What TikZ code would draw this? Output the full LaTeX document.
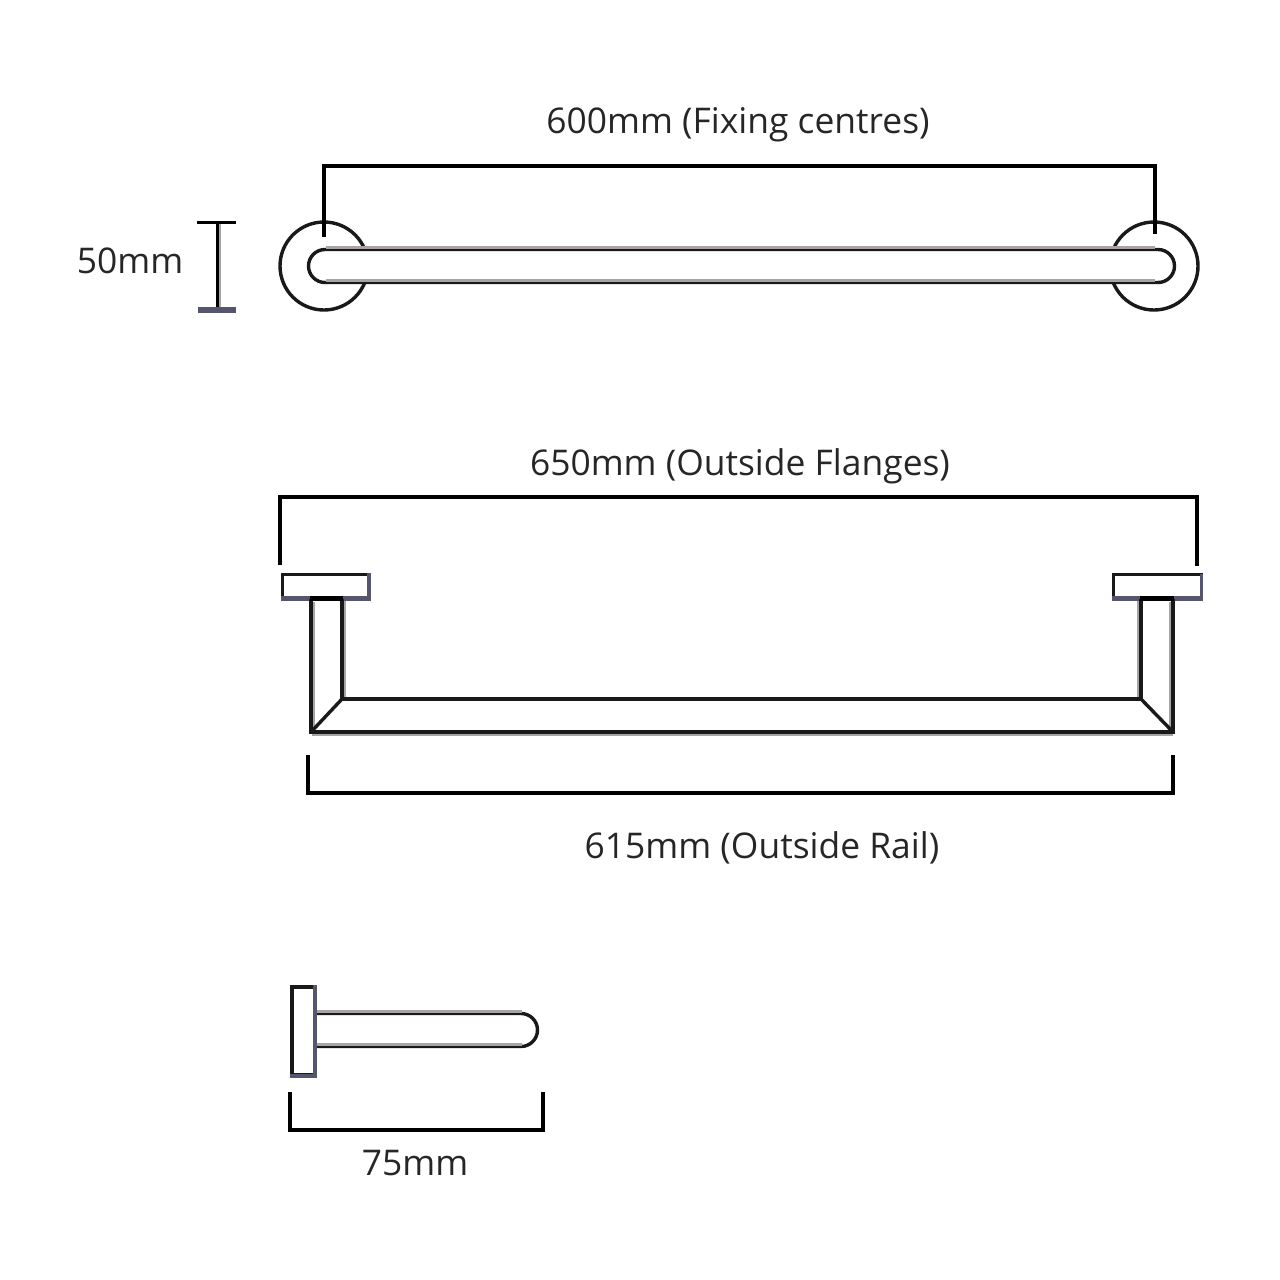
\documentclass[tikz,border=0pt]{standalone}
\usepackage{fontspec}
\setmainfont{Open Sans}
\definecolor{slate}{HTML}{55566E}
\definecolor{shade}{HTML}{A8A4A4}
\tikzset{
  x=1pt,y=-1pt,
  dim/.style={draw=black,line width=3.8pt,line join=miter,line cap=butt},
  outline/.style={draw=black!90,line width=3.4pt,line join=miter},
  shadow/.style={draw=shade,line width=2.4pt},
  accent/.style={draw=slate,line width=4.4pt},
  label/.style={font=\fontsize{35.4}{36}\selectfont,text=black!85,inner sep=0pt,anchor=center},
}
\begin{document}
\begin{tikzpicture}
\useasboundingbox[fill=white] (0,0) rectangle (1280,1280);
% labels
\node[label] (l600) at (738,124.5) {600mm (Fixing centres)};
\node[label] (l650) at (740,466) {650mm (Outside Flanges)};
\node[label] (l615) at (762,848) {615mm (Outside Rail)};
\node[label] (l75) at (415,1163) {75mm};
\node[label] (l50) at (130,261) {50mm};
% top view
\draw[outline] (324,266) circle (44);
\draw[outline] (1154,266) circle (44);
\draw[outline,fill=white] (325,249.5) -- (1158,249.5) arc[start angle=-90,end angle=90,radius=16.5] -- (325,282.5) arc[start angle=90,end angle=270,radius=16.5] -- cycle;
\draw[shadow] (326,247.5) -- (1155,247.5);
\draw[shadow] (326,280.5) -- (1155,280.5);
\draw[dim] (324,237) -- (324,166) -- (1155,166) -- (1155,234);
% 50mm
\draw[shadow] (220,224) -- (220,308);
\draw[draw=black,line width=3pt] (217,222) -- (217,310);
\draw[draw=black,line width=3pt] (197,222) -- (236,222);
\draw[draw=slate,line width=5.5pt] (198,310) -- (236,310);
% front view
\draw[dim] (280,565) -- (280,497) -- (1197,497) -- (1197,566);
\draw[outline,fill=white] (282.5,574.5) rectangle (369,598.5);
\draw[accent] (281,598.5) -- (369,598.5) -- (369,573);
\draw[outline,fill=white] (1113.5,574.5) rectangle (1201.5,598.5);
\draw[accent] (1112,598.5) -- (1203,598.5);
\draw[draw=slate,line width=3pt] (1201.5,574) -- (1201.5,598);
\draw[shadow] (345,601) -- (345,698);
\draw[shadow] (1138,601) -- (1138,697);
\draw[shadow] (314,602) -- (314,728);
\draw[shadow] (1170,602) -- (1170,728);
\draw[shadow] (312,734.5) -- (1173,734.5);
\draw[outline] (311,599) -- (311,732) -- (1173,732) -- (1173,599);
\draw[outline] (342,599) -- (342,699) -- (1141,699) -- (1141,599);
\draw[outline] (342,699) -- (311,732);
\draw[outline] (1141,699) -- (1173,732);
\draw[draw=black,line width=5pt] (310,598.5) -- (343,598.5);
\draw[draw=black,line width=5pt] (1140,598.5) -- (1174,598.5);
\draw[dim] (308,755) -- (308,793) -- (1173,793) -- (1173,755);
% side view
\draw[outline] (316,1013.5) -- (521,1013.5) arc[start angle=-90,end angle=90,radius=16.5] -- (316,1046.5);
\draw[shadow] (316,1011.5) -- (522,1011.5);
\draw[shadow] (316,1044.5) -- (522,1044.5);
\draw[outline,fill=white] (292,987) rectangle (315,1075);
\draw[draw=slate,line width=4.4pt] (315,985) -- (315,1076) -- (290,1076);
\draw[dim] (290,1092) -- (290,1130) -- (543,1130) -- (543,1092);
\end{tikzpicture}
\end{document}
